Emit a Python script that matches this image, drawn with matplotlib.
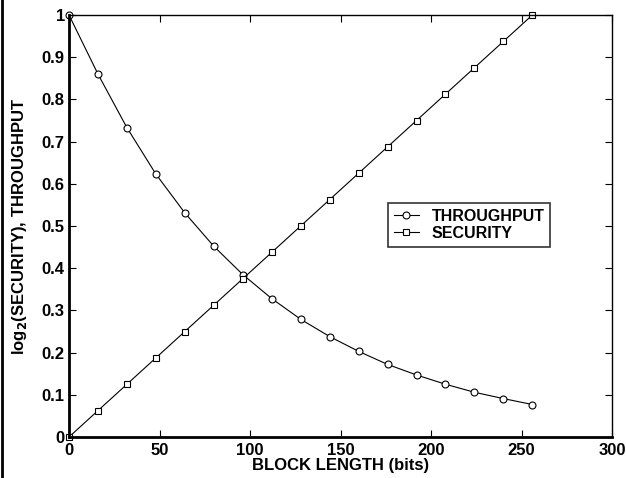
import matplotlib
matplotlib.use("Agg")
import matplotlib.pyplot as plt
from matplotlib.lines import Line2D

plt.rcParams['font.family'] = ['Liberation Sans', 'DejaVu Sans']
plt.rcParams['font.weight'] = 'bold'
plt.rcParams['mathtext.default'] = 'bf'

block_length = [0, 16, 32, 48, 64, 80, 96, 112, 128, 144, 160, 176, 192, 208, 224, 240, 256]
throughput = [1.0, 0.86, 0.733, 0.623, 0.531, 0.452, 0.385, 0.328, 0.279, 0.238,
              0.203, 0.172, 0.147, 0.125, 0.106, 0.091, 0.077]
security = [0.0, 0.0625, 0.125, 0.1875, 0.25, 0.3125, 0.375, 0.4375, 0.5, 0.5625,
            0.625, 0.6875, 0.75, 0.8125, 0.875, 0.9375, 1.0]
xticks = [0, 50, 100, 150, 200, 250, 300]
yticks = [0, 0.1, 0.2, 0.3, 0.4, 0.5, 0.6, 0.7, 0.8, 0.9, 1]
yticklabels = ['0', '0.1', '0.2', '0.3', '0.4', '0.5', '0.6', '0.7', '0.8', '0.9', '1']

fig = plt.figure(figsize=(6.26, 4.78), dpi=100)
ax = fig.add_axes([69/626, 1 - 437/478, 543/626, 422/478])

ax.plot(block_length, throughput, color='black', lw=0.8, marker='o', ms=5,
        mfc='white', mec='black', mew=0.8, label='THROUGHPUT', clip_on=False)
ax.plot(block_length, security, color='black', lw=0.8, marker='s', ms=4,
        mfc='white', mec='black', mew=0.8, label='SECURITY', clip_on=False)

ax.set_xlim(0, 300)
ax.set_ylim(0, 1)
ax.set_xticks(xticks)
ax.set_yticks(yticks)
ax.set_yticklabels(yticklabels)
ax.tick_params(direction='in', top=True, right=True, length=5, width=0.8,
               labelsize=12)
ax.tick_params(axis='x', pad=4)
ax.tick_params(axis='y', pad=3)
for lab in ax.get_xticklabels() + ax.get_yticklabels():
    lab.set_fontweight('bold')
ax.spines['left'].set_linewidth(2)
ax.spines['bottom'].set_linewidth(2)
ax.spines['top'].set_linewidth(1)
ax.spines['right'].set_linewidth(1)

ax.set_xlabel('BLOCK LENGTH (bits)', fontsize=12, fontweight='bold', labelpad=0)
ax.set_ylabel(r'log$_2$(SECURITY), THROUGHPUT', fontsize=12,
              fontweight='bold', labelpad=9)

leg = ax.legend(loc='upper left', bbox_to_anchor=((388-69)/543, (437-203)/422),
                frameon=True, fancybox=False, edgecolor='black',
                prop={'weight': 'bold', 'size': 11.5}, handlelength=1.6,
                borderpad=0.35, labelspacing=0.15, handletextpad=0.8,
                borderaxespad=0)
leg.get_frame().set_linewidth(1.2)

fig.add_artist(Line2D([1.5/626, 1.5/626], [0, 1], color='black', lw=2,
                      transform=fig.transFigure))

fig.savefig('out.png', dpi=100)
